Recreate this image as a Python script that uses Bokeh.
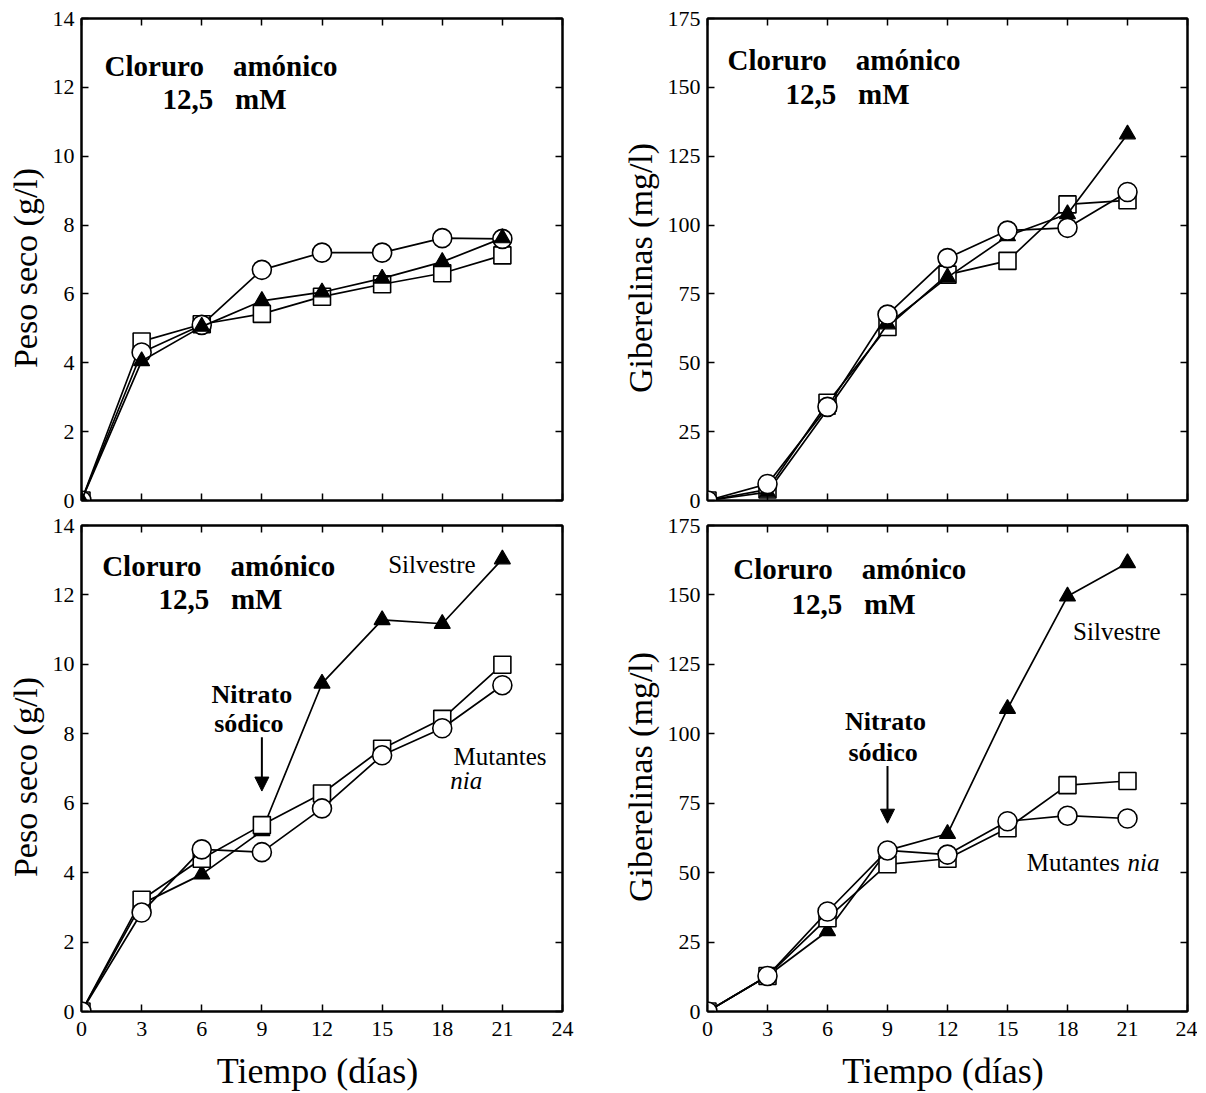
from bokeh.plotting import figure
from bokeh.models import Range1d, LinearAxis, FixedTicker, Label, Arrow, NormalHead
from bokeh.layouts import column, row
from bokeh.embed import file_html
from bokeh.resources import INLINE

# ---------------- data ----------------
days = [0, 3, 6, 9, 12, 15, 18, 21]
x_ticks = [0, 3, 6, 9, 12, 15, 18, 21, 24]
peso_ticks = [0, 2, 4, 6, 8, 10, 12, 14]
gib_ticks = [0, 25, 50, 75, 100, 125, 150, 175]

# top-left: Peso seco, ammonium chloride
peso_top_circle = [0, 4.3, 5.1, 6.7, 7.2, 7.2, 7.62, 7.6]
peso_top_triangle = [0, 4.05, 5.05, 5.8, 6.05, 6.45, 6.93, 7.62]
peso_top_square = [0, 4.62, 5.12, 5.42, 5.92, 6.28, 6.6, 7.12]

# top-right: Giberelinas, ammonium chloride
gib_top_circle = [0, 6, 34, 67.5, 88, 98, 99, 112]
gib_top_triangle = [0, 3, 33, 64, 81, 96, 104, 133]
gib_top_square = [0, 4, 35.5, 63, 82, 87, 107.5, 109]

# bottom-left: Peso seco, nitrate added at day 9
peso_bot_triangle = [0, 3.1, 3.95, 5.2, 9.45, 11.28, 11.17, 13.03]
peso_bot_square = [0, 3.22, 4.4, 5.37, 6.28, 7.57, 8.43, 9.99]
peso_bot_circle = [0, 2.85, 4.67, 4.59, 5.85, 7.38, 8.16, 9.4]

# bottom-right: Giberelinas, nitrate added at day 9
gib_bot_triangle = [0, 12.8, 29, 58, 64, 109, 149.5, 161.5]
gib_bot_square = [0, 12.8, 33.6, 53, 55, 66, 81.5, 83]
gib_bot_circle = [0, 12.8, 36, 58, 56.5, 68.5, 70.5, 69.5]

FONT = "Liberation Serif"
GAP = "\u00a0\u00a0\u00a0\u00a0"


def make_fig(ymax, yticks, ylabel, bottom_labels, fw, fh, mbl, mbr, mbt, mbb):
    p = figure(frame_width=fw, frame_height=fh,
               x_range=Range1d(0, 24), y_range=Range1d(0, ymax),
               output_backend="svg", toolbar_location=None,
               min_border_left=mbl, min_border_right=mbr,
               min_border_top=mbt, min_border_bottom=mbb)
    p.grid.visible = False
    p.outline_line_color = "black"
    p.outline_line_width = 2
    p.background_fill_color = "white"
    p.border_fill_color = "white"

    for ax in p.xaxis:
        ax.ticker = FixedTicker(ticks=x_ticks)
        ax.major_tick_in = 7
        ax.major_tick_out = 0
        ax.minor_tick_in = 0
        ax.minor_tick_out = 0
        ax.axis_line_width = 2
        ax.major_tick_line_width = 1.5
        ax.major_label_text_font = FONT
        ax.major_label_text_font_size = "22px" if bottom_labels else "0px"
        ax.major_label_text_color = "black"
        ax.major_label_standoff = 10 if bottom_labels else 0
        if bottom_labels:
            ax.axis_label = "Tiempo  (días)"
            ax.axis_label_text_font = FONT
            ax.axis_label_text_font_size = "36px"
            ax.axis_label_text_font_style = "normal"
            ax.axis_label_text_color = "black"
            ax.axis_label_standoff = 12
    for ax in p.yaxis:
        ax.ticker = FixedTicker(ticks=yticks)
        ax.major_tick_in = 7
        ax.major_tick_out = 0
        ax.minor_tick_in = 0
        ax.minor_tick_out = 0
        ax.axis_line_width = 2
        ax.major_tick_line_width = 1.5
        ax.major_label_text_font = FONT
        ax.major_label_text_font_size = "22px"
        ax.major_label_text_color = "black"
        ax.major_label_standoff = 7
        ax.axis_label = ylabel
        ax.axis_label_text_font = FONT
        ax.axis_label_text_font_size = "34px"
        ax.axis_label_text_font_style = "normal"
        ax.axis_label_text_color = "black"
        ax.axis_label_standoff = 6

    right = LinearAxis(ticker=FixedTicker(ticks=yticks), major_label_text_font_size="0px",
                       major_tick_in=7, major_tick_out=0, minor_tick_in=0, minor_tick_out=0,
                       axis_line_width=2, major_tick_line_width=1.5, major_label_standoff=0)
    p.add_layout(right, "right")
    top = LinearAxis(ticker=FixedTicker(ticks=x_ticks), major_label_text_font_size="0px",
                     major_tick_in=7, major_tick_out=0, minor_tick_in=0, minor_tick_out=0,
                     axis_line_width=2, major_tick_line_width=1.5, major_label_standoff=0)
    p.add_layout(top, "above")
    return p


def series(p, vals, marker):
    p.line(days, vals, line_color="black", line_width=1.7)
    if marker == "circle":
        p.scatter(days, vals, marker="circle", size=19, fill_color="white",
                  line_color="black", line_width=1.6)
    elif marker == "square":
        p.scatter(days, vals, marker="square", size=17, fill_color="white",
                  line_color="black", line_width=1.6)
    else:
        p.scatter(days, vals, marker="triangle", size=16, fill_color="black",
                  line_color="black", line_width=1.2)


def title(p, x1, y1, x2, y2):
    p.add_layout(Label(x=x1, y=y1, text="Cloruro" + GAP + "amónico", text_font=FONT,
                       text_font_size="29px", text_font_style="bold",
                       text_baseline="alphabetic", text_color="black"))
    p.add_layout(Label(x=x2, y=y2, text="12,5\u00a0\u00a0\u00a0mM", text_font=FONT,
                       text_font_size="29px", text_font_style="bold",
                       text_baseline="alphabetic", text_color="black"))


def lab(p, x, y, text, size="25px", style="normal", align="left"):
    p.add_layout(Label(x=x, y=y, text=text, text_font=FONT, text_font_size=size,
                       text_font_style=style, text_align=align,
                       text_baseline="alphabetic", text_color="black"))


# ---------------- panels ----------------
p1 = make_fig(14, peso_ticks, "Peso  seco  (g/l)", False, 481, 482, 81, 20, 18, 13)
series(p1, peso_top_square, "square")
series(p1, peso_top_circle, "circle")
series(p1, peso_top_triangle, "triangle")
title(p1, 1.15, 12.63, 4.04, 11.65)

p2 = make_fig(175, gib_ticks, "Giberelinas   (mg/l)", False, 480, 482, 125, 10, 18, 13)
series(p2, gib_top_square, "square")
series(p2, gib_top_triangle, "triangle")
series(p2, gib_top_circle, "circle")
title(p2, 1.0, 159.8, 3.9, 147.6)

p3 = make_fig(14, peso_ticks, "Peso  seco  (g/l)", True, 481, 486, 81, 20, 12, 10)
series(p3, peso_bot_triangle, "triangle")
series(p3, peso_bot_square, "square")
series(p3, peso_bot_circle, "circle")
title(p3, 1.03, 12.84, 3.84, 11.88)
lab(p3, 15.3, 12.87, "Silvestre")
lab(p3, 8.5, 9.12, "Nitrato", "26px", "bold", "center")
lab(p3, 8.35, 8.29, "sódico", "26px", "bold", "center")
p3.add_layout(Arrow(end=NormalHead(size=14, fill_color="black", line_color="black"),
                    x_start=9, y_start=7.9, x_end=9, y_end=6.35,
                    line_color="black", line_width=2))
lab(p3, 18.56, 7.36, "Mutantes")
lab(p3, 18.4, 6.64, "nia", "25px", "italic")

p4 = make_fig(175, gib_ticks, "Giberelinas   (mg/l)", True, 480, 486, 125, 10, 12, 10)
series(p4, gib_bot_triangle, "triangle")
series(p4, gib_bot_square, "square")
series(p4, gib_bot_circle, "circle")
title(p4, 1.29, 159.5, 4.2, 146.9)
lab(p4, 18.28, 136.7, "Silvestre")
lab(p4, 8.9, 104.3, "Nitrato", "26px", "bold", "center")
lab(p4, 8.78, 93.4, "sódico", "26px", "bold", "center")
p4.add_layout(Arrow(end=NormalHead(size=14, fill_color="black", line_color="black"),
                    x_start=9, y_start=88.4, x_end=9, y_end=67.8,
                    line_color="black", line_width=2))
lab(p4, 15.96, 53.8, "Mutantes")
lab(p4, 21.0, 53.8, "nia", "25px", "italic")

layout = column(row(p1, p2), row(p3, p4))
open("out.html", "w").write(file_html(layout, INLINE))
